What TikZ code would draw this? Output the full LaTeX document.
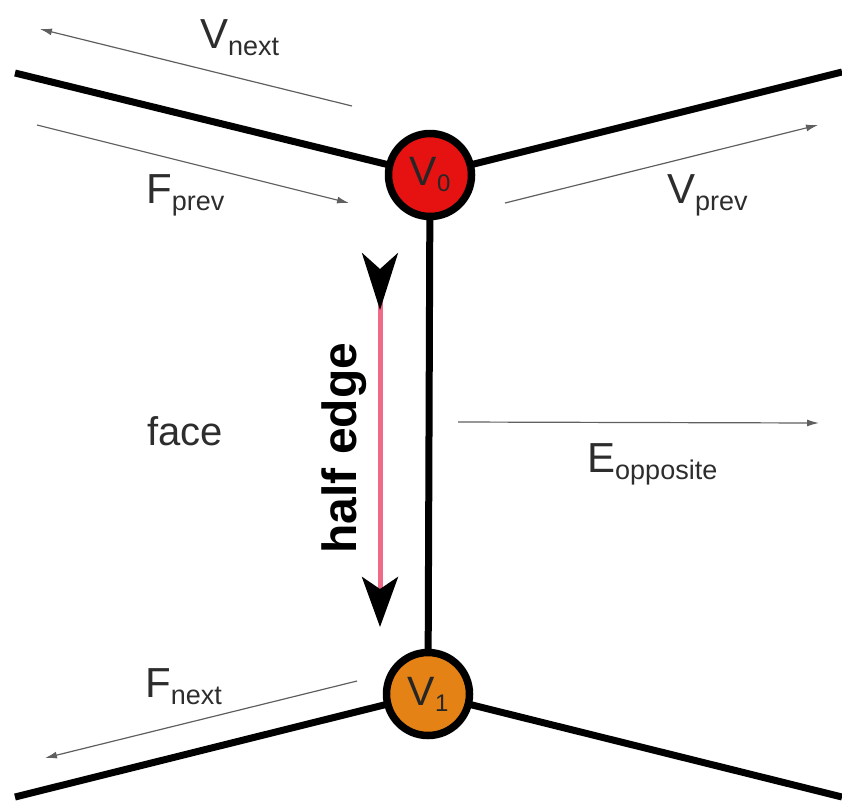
\documentclass[tikz,border=0pt]{standalone}
\usepackage{fontspec}
\setmainfont{Liberation Sans}
\usetikzlibrary{arrows.meta,backgrounds}
\definecolor{vred}{RGB}{230,18,18}
\definecolor{vorange}{RGB}{228,130,22}
\definecolor{hepink}{RGB}{240,105,135}
\definecolor{lbltext}{RGB}{45,45,45}
\definecolor{thingray}{RGB}{95,95,95}
\newcommand{\biglbl}[2]{{\fontsize{42}{42}\selectfont #1}\raisebox{-7pt}{\fontsize{27}{27}\selectfont #2}}
\newcommand{\vlbl}[2]{{\fontsize{41}{41}\selectfont #1}\raisebox{-6pt}{\fontsize{24}{24}\selectfont #2}}
\tikzset{
  vertexnode/.style={circle,draw=black,line width=7.5pt,minimum size=83pt,inner sep=0pt,text=black!85},
  meshedge/.style={line width=7pt,black},
  thinarrow/.style={draw=thingray,line width=1.2pt,-{Latex[length=12pt,width=7pt]}},
  lbl/.style={anchor=base west,inner sep=0pt,text=lbltext},
  halfedge/.style={draw=hepink,line width=5pt,
    {Stealth[reversed,length=57pt,width=36pt,inset=16pt,black]}-{Stealth[length=50pt,width=36pt,inset=12pt,black]}}
}
\begin{document}
\begin{tikzpicture}[x=1pt,y=-1pt]
\useasboundingbox (0,0) rectangle (842,804);
% vertices
\node[vertexnode,fill=vred] (V0) at (430,175) {\vlbl{V}{0}};
\node[vertexnode,fill=vorange] (V1) at (428,694) {\vlbl{V}{1}};
% outer ends of the mesh edges
\coordinate (tl) at (15,73);
\coordinate (tr) at (842,72);
\coordinate (bl) at (15,797);
\coordinate (br) at (842,797);
\begin{scope}[on background layer]
\draw[meshedge] (tl) -- (V0.center);
\draw[meshedge] (tr) -- (V0.center);
\draw[meshedge] (V0.center) -- (V1.center);
\draw[meshedge] (bl) -- (V1.center);
\draw[meshedge] (br) -- (V1.center);
\end{scope}
% thin arrows
\coordinate (vn1) at (352,106);  \coordinate (vn2) at (40,29);
\coordinate (fp1) at (37,125);   \coordinate (fp2) at (349,203);
\coordinate (vp1) at (505,203);  \coordinate (vp2) at (818,125);
\coordinate (eo1) at (458,422);  \coordinate (eo2) at (819,423);
\coordinate (fn1) at (357,681);  \coordinate (fn2) at (45,758);
\draw[thinarrow] (vn1) -- (vn2);
\draw[thinarrow] (fp1) -- (fp2);
\draw[thinarrow] (vp1) -- (vp2);
\draw[thinarrow] (eo1) -- (eo2);
\draw[thinarrow] (fn1) -- (fn2);
% labels
\node[lbl] (lvnext) at (200,48) {\biglbl{V}{next}};
\node[lbl] (lfprev) at (146,203) {\biglbl{F}{prev}};
\node[lbl] (lvprev) at (667,203) {\biglbl{V}{prev}};
\node[lbl] (lfnext) at (145,697) {\biglbl{F}{next}};
\node[lbl] (leopp) at (587,472) {\biglbl{E}{opposite}};
\node[lbl] (lface) at (147,445) {\fontsize{40}{40}\selectfont face};
% half edge
\coordinate (he1) at (380,253);
\coordinate (he2) at (380,627);
\draw[halfedge] (he1) -- (he2);
\node[anchor=base,rotate=90,inner sep=0pt,text=black] (lhe) at (356,448)
  {\fontsize{48}{48}\selectfont\bfseries half edge};
\end{tikzpicture}
\end{document}
